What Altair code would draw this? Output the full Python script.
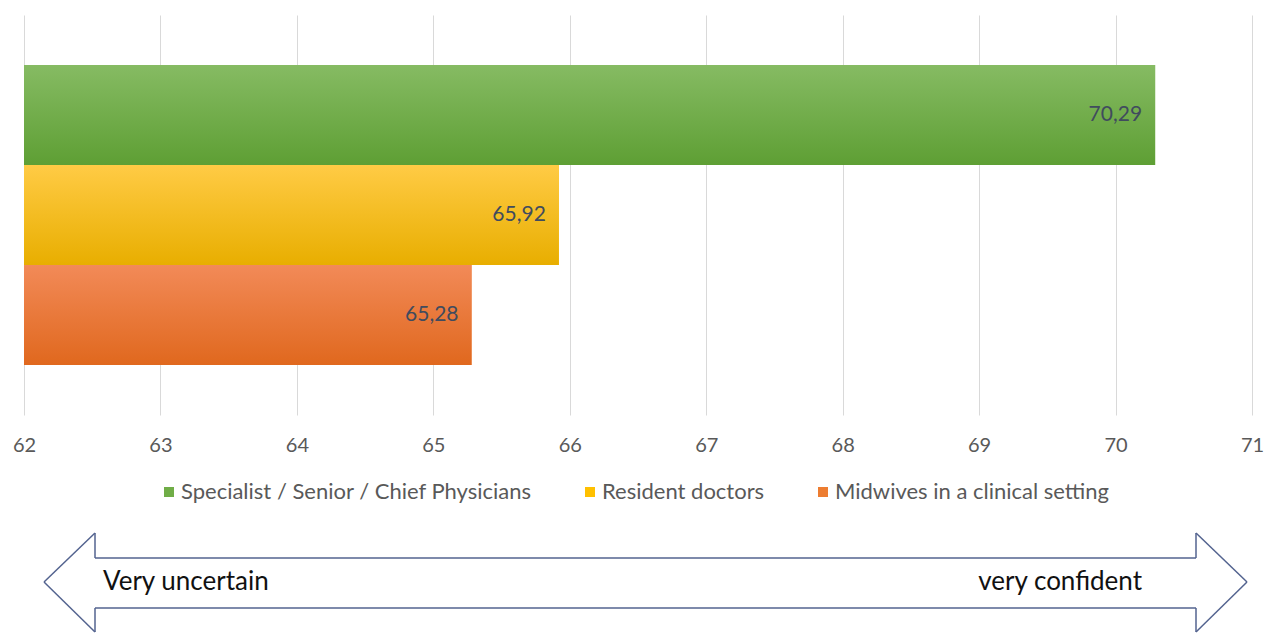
import altair as alt
import pandas as pd

groups = ["Specialist / Senior / Chief Physicians", "Resident doctors", "Midwives in a clinical setting"]
values = [70.29, 65.92, 65.28]
solid_colors = ["#70AD47", "#FFC000", "#ED7D31"]
grad_top = ["#86BB63", "#FFCB45", "#F28A58"]
grad_bottom = ["#5E9F34", "#E8AE00", "#E0681E"]
ticks = [62, 63, 64, 65, 66, 67, 68, 69, 70, 71]
left_text = "Very uncertain"
right_text = "very confident"

df = pd.DataFrame({"group": groups, "value": values})

FONT = "Lato"

y_enc = alt.Y("group:N", sort=groups, axis=None,
              scale=alt.Scale(paddingInner=0, paddingOuter=0.5))
x_scale = alt.Scale(domain=[62, 71], nice=False, zero=False)
x_enc = alt.X("value:Q", scale=x_scale,
              axis=alt.Axis(values=ticks, format="d", title=None, grid=True, gridColor="#D9D9D9",
                            gridWidth=1, domain=False, ticks=False, labelPadding=20,
                            labelFlush=False, labelBound=False,
                            labelFontSize=20, labelColor="#595959", labelFont=FONT))
x2_enc = alt.X2(datum=62)

base = alt.Chart(df).mark_bar(clip=True).encode(
    y=y_enc,
    x=x_enc,
    x2=x2_enc,
    color=alt.Color("group:N", sort=groups,
                    scale=alt.Scale(domain=groups, range=solid_colors),
                    legend=alt.Legend(title=None, orient="none", legendX=134, legendY=466,
                                      direction="horizontal", symbolType="square",
                                      symbolSize=100, symbolStrokeWidth=0, labelLimit=0,
                                      labelFontSize=22, labelColor="#595959", labelFont=FONT,
                                      columnPadding=47, padding=0, labelOffset=1)),
)

layers = [base]
for g, t, b in zip(groups, grad_top, grad_bottom):
    grad = alt.LinearGradient(gradient="linear", x1=0, y1=0, x2=0, y2=1,
                              stops=[alt.GradientStop(color=t, offset=0),
                                     alt.GradientStop(color=b, offset=1)])
    layers.append(
        alt.Chart(df).transform_filter(alt.datum.group == g)
        .mark_bar(color=grad, clip=True).encode(y=y_enc, x=alt.X("value:Q", scale=x_scale),
                                                x2=x2_enc)
    )

labels = alt.Chart(df).transform_calculate(
    label="replace(format(datum.value, '.2f'), '.', ',')"
).mark_text(align="right", baseline="middle", dx=-13, fontSize=21, font=FONT,
            color="#404B5E").encode(y=y_enc, x=alt.X("value:Q", scale=x_scale), text="label:N")
layers.append(labels)

# double-headed outline arrow below the chart (decoration, pixel positions)
segs = [
    (20, 567, 71, 518), (71, 518, 71, 543), (71, 543, 1172, 543), (1172, 543, 1172, 518),
    (1172, 518, 1223, 567), (1223, 567, 1172, 617), (1172, 617, 1172, 593),
    (1172, 593, 71, 593), (71, 593, 71, 617), (71, 617, 20, 567),
]
one = alt.Data(values=[{}])
for (ax1, ay1, ax2, ay2) in segs:
    layers.append(
        alt.Chart(one).mark_rule(color="#53638F", strokeWidth=1.5).encode(
            x=alt.value(ax1), y=alt.value(ay1), x2=alt.value(ax2), y2=alt.value(ay2))
    )
layers.append(alt.Chart(one).mark_text(align="left", baseline="middle", fontSize=26,
                                       font=FONT, color="#111111").encode(
    x=alt.value(79), y=alt.value(567), text=alt.value(left_text)))
layers.append(alt.Chart(one).mark_text(align="right", baseline="middle", fontSize=26,
                                       font=FONT, color="#111111").encode(
    x=alt.value(1118), y=alt.value(567), text=alt.value(right_text)))

chart = alt.layer(*layers).properties(
    width=1228, height=400,
    autosize=alt.AutoSizeParams(type="none"),
    padding={"left": 24, "top": 15, "right": 13, "bottom": 218},
    background="white",
).configure_view(stroke=None)

chart.save("out.html", embed_options={"renderer": "svg", "actions": False})
